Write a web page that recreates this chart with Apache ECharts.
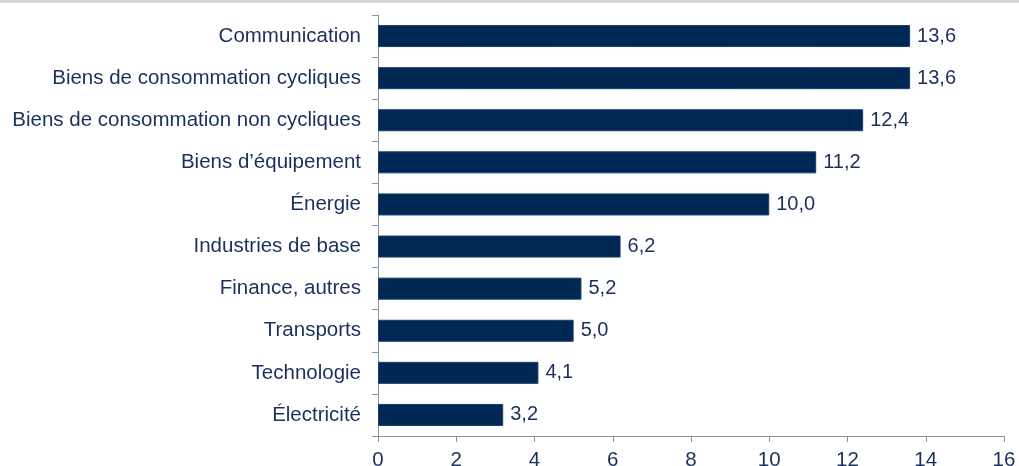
<!DOCTYPE html>
<html>
<head>
<meta charset="utf-8">
<script src="https://cdn.jsdelivr.net/npm/echarts@6/dist/echarts.min.js"></script>
<style>
  html, body { margin: 0; padding: 0; background: #fff; }
  #chart { width: 1019px; height: 466px; }
</style>
</head>
<body>
<div id="chart"></div>
<script>
// sectors, bottom to top
const categories = [
  'Électricité',
  'Technologie',
  'Transports',
  'Finance, autres',
  'Industries de base',
  'Énergie',
  'Biens d’équipement',
  'Biens de consommation non cycliques',
  'Biens de consommation cycliques',
  'Communication'
]
const values = [3.2, 4.1, 5.0, 5.2, 6.2, 10.0, 11.2, 12.4, 13.6, 13.6]
const xTicks = [0, 2, 4, 6, 8, 10, 12, 14, 16]

const chart = echarts.init(document.getElementById('chart'))

const axisGray = '#8c96a3'
const navy = '#002855'
const textNavy = '#1b2f5b'

chart.setOption({
  animation: false,
  textStyle: { fontFamily: 'Liberation Sans, Arial, sans-serif' },
  graphic: [{
    type: 'rect',
    shape: { x: 0, y: 0, width: 1019, height: 3 },
    style: { fill: '#d3d7dc' }
  }],
  grid: { left: 378, right: 15, top: 15, bottom: 30, containLabel: false, outerBoundsMode: 'none' },
  xAxis: {
    type: 'value',
    min: xTicks[0],
    max: xTicks[xTicks.length - 1],
    interval: 2,
    splitLine: { show: false },
    axisLine: { show: true, lineStyle: { color: axisGray, width: 1 } },
    axisTick: { show: true, length: 6, lineStyle: { color: axisGray } },
    axisLabel: { color: textNavy, fontSize: 20.5, margin: 14 }
  },
  yAxis: {
    type: 'category',
    data: categories,
    axisLine: { show: true, lineStyle: { color: axisGray, width: 1 } },
    axisTick: { show: true, length: 6, lineStyle: { color: axisGray } },
    axisLabel: { color: textNavy, fontSize: 20.5, margin: 17 }
  },
  series: [{
    type: 'bar',
    data: values,
    barWidth: 22,
    itemStyle: { color: navy, borderColor: '#1d3d66', borderWidth: 1 },
    label: {
      show: true,
      position: 'right',
      distance: 7,
      color: textNavy,
      fontSize: 20,
      formatter: p => p.value.toFixed(1).replace('.', ',')
    }
  }]
})
</script>
</body>
</html>
